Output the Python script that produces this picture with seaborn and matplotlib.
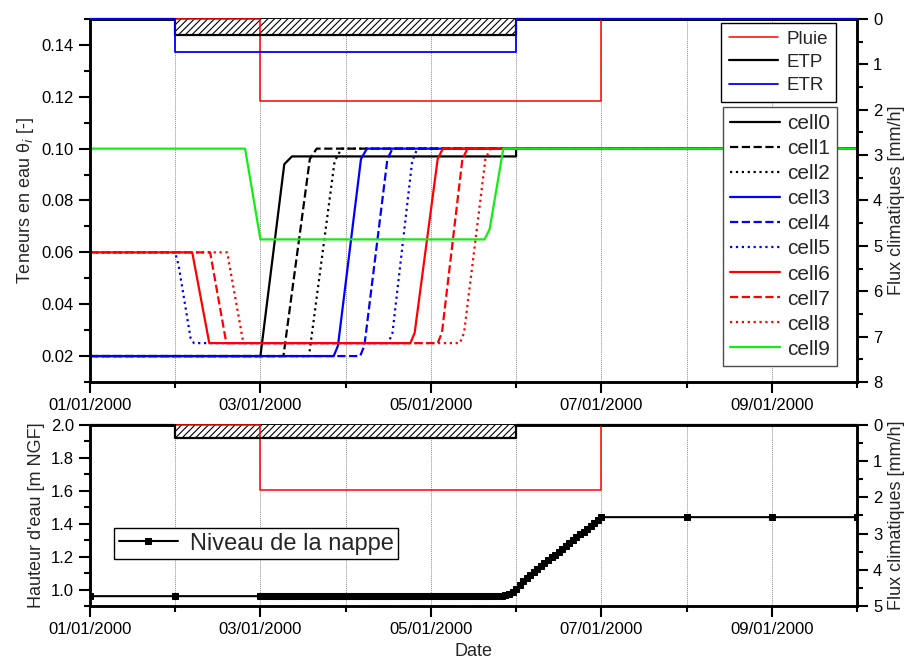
import numpy as np
import pandas as pd
import matplotlib
matplotlib.use("Agg")
import matplotlib.pyplot as plt
import matplotlib.dates as mdates
from matplotlib.ticker import MultipleLocator
import seaborn as sns

# climatic fluxes [mm/h], step values starting at each day (days since 01/01/2000)
flux_days = [0, 1, 2, 5, 6, 9]
pluie = [0, 0, 1.8, 1.8, 0, 0]
etp = [0, 0.36, 0.36, 0, 0, 0]
etr = [0, 0.72, 0.72, 0, 0, 0]

# water content of each cell, breakpoints (day, theta)
cell0_days = [0, 2.0, 2.28, 2.37, 5.0, 5.0, 9]
cell0_theta = [0.02, 0.02, 0.094, 0.097, 0.097, 0.10, 0.10]
cell1_days = [0, 2.27, 2.58, 2.66, 9]
cell1_theta = [0.02, 0.02, 0.096, 0.10, 0.10]
cell2_days = [0, 2.57, 2.87, 2.95, 9]
cell2_theta = [0.02, 0.02, 0.095, 0.10, 0.10]
cell3_days = [0, 2.86, 2.91, 3.18, 3.25, 9]
cell3_theta = [0.02, 0.02, 0.024, 0.096, 0.10, 0.10]
cell4_days = [0, 3.17, 3.22, 3.49, 3.55, 9]
cell4_theta = [0.02, 0.02, 0.024, 0.096, 0.10, 0.10]
cell5_days = [0, 1.0, 1.04, 1.18, 1.22, 3.50, 3.55, 3.78, 3.84, 9]
cell5_theta = [0.06, 0.06, 0.055, 0.027, 0.025, 0.025, 0.029, 0.095, 0.10, 0.10]
cell6_days = [0, 1.20, 1.40, 3.76, 3.81, 4.08, 4.14, 9]
cell6_theta = [0.06, 0.06, 0.025, 0.025, 0.029, 0.096, 0.10, 0.10]
cell7_days = [0, 1.41, 1.60, 4.08, 4.13, 4.37, 4.43, 9]
cell7_theta = [0.06, 0.06, 0.025, 0.025, 0.029, 0.096, 0.10, 0.10]
cell8_days = [0, 1.61, 1.80, 4.34, 4.39, 4.64, 4.70, 9]
cell8_theta = [0.06, 0.06, 0.025, 0.025, 0.029, 0.096, 0.10, 0.10]
cell9_days = [0, 0, 1.82, 2.0, 4.63, 4.69, 4.85, 9]
cell9_theta = [0.06, 0.10, 0.10, 0.065, 0.065, 0.069, 0.10, 0.10]
cell_names = ["cell0", "cell1", "cell2", "cell3", "cell4",
              "cell5", "cell6", "cell7", "cell8", "cell9"]

# water table level [m NGF] (hours since 01/01/2000)
level_hours = [0, 24] + list(range(48, 145)) + [168, 192, 216]
level_m = ([0.96, 0.96] + [0.96] * 67
           + [0.960, 0.961, 0.965, 0.972, 0.985, 1.005, 1.030, 1.055,
              1.072, 1.090, 1.107, 1.125, 1.142, 1.160, 1.177, 1.195,
              1.212, 1.230, 1.247, 1.265, 1.282, 1.300, 1.317, 1.335,
              1.352, 1.370, 1.387, 1.405, 1.422, 1.440]
           + [1.44, 1.44, 1.44])

sns.set_style("ticks")
plt.rcParams["font.family"] = ["Liberation Sans", "DejaVu Sans"]
plt.rcParams["hatch.linewidth"] = 0.8

start = mdates.date2num(pd.Timestamp("2000-01-01"))
xf = start + np.array(flux_days, dtype=float)

fig = plt.figure(figsize=(9.06, 6.64), dpi=100)
ax1 = fig.add_axes([0.0993, 0.4247, 0.8466, 0.5467])
ax3 = fig.add_axes([0.0993, 0.0873, 0.8466, 0.2727])
ax2 = ax1.twinx()
ax4 = ax3.twinx()

# --- top panel: water contents
cells = [(cell0_days, cell0_theta), (cell1_days, cell1_theta),
         (cell2_days, cell2_theta), (cell3_days, cell3_theta),
         (cell4_days, cell4_theta), (cell5_days, cell5_theta),
         (cell6_days, cell6_theta), (cell7_days, cell7_theta),
         (cell8_days, cell8_theta), (cell9_days, cell9_theta)]
cell_colors = ["black"] * 3 + ["#0000ff"] * 3 + ["#ff0000"] * 3 + ["#11ee11"]
cell_styles = ["-", "--", ":"] * 3 + ["-"]

cell_handles = []
for (d, th), c, ls in zip(cells, cell_colors, cell_styles):
    sns.lineplot(x=start + np.array(d, dtype=float), y=th, ax=ax1, color=c,
                 linestyle=ls, lw=1.6, estimator=None, sort=False, legend=False)
    cell_handles.append(ax1.get_lines()[-1])


def draw_flux(ax, with_etr):
    ax.fill_between(xf, 0, etp, step="post", facecolor="white",
                    edgecolor="black", hatch="/////", lw=0, zorder=2.6)
    sns.lineplot(x=xf, y=pluie, ax=ax, color="#ff0000", lw=1.1,
                 drawstyle="steps-post", estimator=None, sort=False,
                 legend=False, zorder=3, clip_on=False)
    h_p = ax.get_lines()[-1]
    sns.lineplot(x=xf, y=etp, ax=ax, color="black", lw=1.6,
                 drawstyle="steps-post", estimator=None, sort=False,
                 legend=False, zorder=3.1, clip_on=False)
    h_e = ax.get_lines()[-1]
    h_r = None
    if with_etr:
        sns.lineplot(x=xf, y=etr, ax=ax, color="#0000ff", lw=1.3,
                     drawstyle="steps-post", estimator=None, sort=False,
                     legend=False, zorder=3.2, clip_on=False)
        h_r = ax.get_lines()[-1]
    return h_p, h_e, h_r


flux_handles = draw_flux(ax2, True)
draw_flux(ax4, False)

# --- bottom panel: water table
sns.lineplot(x=start + np.array(level_hours, dtype=float) / 24, y=level_m,
             ax=ax3, color="black", lw=1.5, marker="s", markersize=4.5,
             markeredgecolor="black", estimator=None, sort=False,
             legend=False, zorder=3)
level_handle = ax3.get_lines()[-1]

# --- axes cosmetics
for ax in (ax1, ax3):
    ax.set_xlim(start, start + 9)
    ax.xaxis.set_major_locator(mdates.DayLocator(bymonthday=[1, 3, 5, 7, 9]))
    ax.xaxis.set_minor_locator(mdates.DayLocator())
    ax.xaxis.set_major_formatter(mdates.DateFormatter("%d/%m/%Y"))
    ax.xaxis.grid(True, which="both", color="0.55", lw=0.7, ls=(0, (1, 1)))
    ax.set_axisbelow(True)

ax1.set_ylim(0.01, 0.15)
ax1.yaxis.set_major_locator(MultipleLocator(0.02))
ax1.yaxis.set_minor_locator(MultipleLocator(0.01))
ax2.set_ylim(8, 0)
ax2.yaxis.set_major_locator(MultipleLocator(1))
ax2.yaxis.set_minor_locator(MultipleLocator(0.5))
ax3.set_ylim(0.9, 2.0)
ax3.yaxis.set_major_locator(MultipleLocator(0.2))
ax3.yaxis.set_minor_locator(MultipleLocator(0.1))
ax4.set_ylim(5, 0)
ax4.yaxis.set_major_locator(MultipleLocator(1))
ax4.yaxis.set_minor_locator(MultipleLocator(0.5))

for ax in (ax1, ax2, ax3, ax4):
    for s in ax.spines.values():
        s.set_linewidth(1.8)
        s.set_color("black")
    ax.tick_params(which="major", direction="out", length=8, width=1.5,
                   labelsize=12, color="black", labelcolor="black")
    ax.tick_params(which="minor", direction="out", length=4.5, width=1.5,
                   color="black")

ax1.set_xlabel("")
ax1.set_ylabel("Teneurs en eau θ$_{i}$ [-]", fontsize=13)
ax2.set_ylabel("Flux climatiques [mm/h]", fontsize=13)
ax3.set_ylabel("Hauteur d'eau [m NGF]", fontsize=13)
ax4.set_ylabel("Flux climatiques [mm/h]", fontsize=13)
ax3.set_xlabel("Date", fontsize=13)

# --- legends
leg_kw = dict(frameon=True, fancybox=False, framealpha=1, borderaxespad=0)
leg1 = fig.legend(flux_handles, ["Pluie", "ETP", "ETR"], loc="upper right",
                  bbox_to_anchor=(836 / 906, 1 - 23 / 664), fontsize=13.5,
                  handlelength=2.6, labelspacing=0.33, borderpad=0.4,
                  handletextpad=0.5, edgecolor="black", **leg_kw)
leg2 = fig.legend(cell_handles, cell_names, loc="upper right",
                  bbox_to_anchor=(837 / 906, 1 - 107 / 664), fontsize=15,
                  handlelength=2.4, labelspacing=0.29, borderpad=0.35,
                  handletextpad=0.3, edgecolor="0.3", **leg_kw)
leg3 = fig.legend([level_handle], ["Niveau de la nappe"], loc="upper left",
                  bbox_to_anchor=(114 / 906, 1 - 528 / 664), fontsize=17,
                  handlelength=2.5, borderpad=0.2, handletextpad=0.5,
                  edgecolor="black", **leg_kw)
for leg in (leg1, leg2, leg3):
    leg.get_frame().set_linewidth(1.0)

fig.savefig("out.png", dpi=100)
